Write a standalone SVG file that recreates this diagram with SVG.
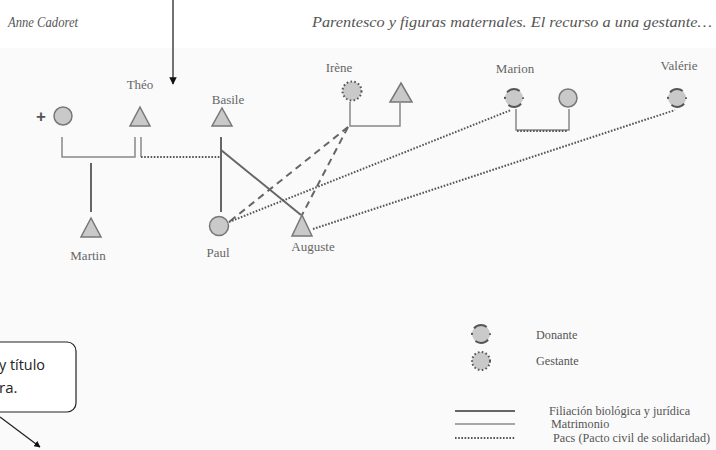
<svg xmlns="http://www.w3.org/2000/svg" width="716" height="450" viewBox="0 0 716 450">
<defs>
<style>
.hdr{font-family:"Liberation Serif",serif;font-style:italic;font-size:15px;fill:#555}
.lbl{font-family:"Liberation Serif",serif;font-size:13px;fill:#666}
.leg{font-family:"Liberation Serif",serif;font-size:12.2px;fill:#555}
.node{fill:#c9c9c9;stroke:#777;stroke-width:1.5}
.don{fill:#c9c9c9;stroke:#555;stroke-width:2;stroke-dasharray:2 5 14 7.27;stroke-dashoffset:1}
.ges{fill:#c9c9c9;stroke:#555;stroke-width:2;stroke-dasharray:1.6 2.3}
.fil{fill:none;stroke:#666;stroke-width:2}
.mat{fill:none;stroke:#888;stroke-width:1.5}
.pacs{fill:none;stroke:#555;stroke-width:2;stroke-dasharray:1.6 1.6}
.dash{fill:none;stroke:#666;stroke-width:2;stroke-dasharray:7 5}
.call{font-family:"Open Sans","Liberation Sans",sans-serif;font-size:15px;fill:#222}
</style>
<marker id="ah" viewBox="0 0 10 10" refX="9" refY="5" markerWidth="5" markerHeight="5" orient="auto"><path d="M0,0 L10,5 L0,10 z" fill="#111"/></marker>
</defs>
<rect x="0" y="0" width="716" height="450" fill="#fff"/>
<rect x="0" y="48" width="716" height="402" fill="#fafafa"/>
<text class="hdr" x="8" y="27" style="font-size:14px" textLength="70" lengthAdjust="spacingAndGlyphs">Anne Cadoret</text>
<text class="hdr" x="312" y="27" textLength="400" lengthAdjust="spacingAndGlyphs">Parentesco y figuras maternales. El recurso a una gestante…</text>
<g id="connectors">
<path class="mat" d="M62,137 V157 H135 V137"/>
<path class="fil" d="M91,163 V212"/>
<path class="mat" d="M141,137 V157"/>
<path class="pacs" d="M141,157 H221"/>
<path class="fil" d="M221,137 V212"/>
<path class="fil" d="M221,150 L301,215"/>
<path class="mat" d="M350,102 V126 H400 V103"/>
<path class="dash" d="M348,127 L229,222"/>
<path class="dash" d="M348,127 L302,215"/>
<path class="pacs" d="M229,222 L511,110"/>
<path class="pacs" d="M313,229 L675,110"/>
<path class="mat" d="M516,109 V130 H569 V109"/>
<path class="pacs" d="M517,131 H567"/>
</g>
<g id="top-arrow"><path d="M173,0 V84" stroke="#444" stroke-width="1.5" marker-end="url(#ah)"/></g>
<g id="plus"><text x="41" y="122" text-anchor="middle" style="font-family:'Liberation Sans',sans-serif;font-size:17px;font-weight:bold;fill:#555">+</text></g>
<g id="wife"><circle class="node" cx="63" cy="116" r="9"/></g>
<g id="theo"><text class="lbl" x="140" y="89" text-anchor="middle">Théo</text><path class="node" d="M140,107 L150,126 L130,126 Z"/></g>
<g id="basile"><text class="lbl" x="228" y="104" text-anchor="middle">Basile</text><path class="node" d="M222,108 L232,126 L212,126 Z"/></g>
<g id="martin"><path class="node" d="M91,218 L101,237 L81,237 Z"/><text class="lbl" x="88" y="260" text-anchor="middle">Martin</text></g>
<g id="paul"><circle class="node" cx="219" cy="226" r="9.5"/><text class="lbl" x="218" y="257" text-anchor="middle">Paul</text></g>
<g id="auguste"><path class="node" d="M302,215 L312,236 L292,236 Z"/><text class="lbl" x="313" y="251" text-anchor="middle">Auguste</text></g>
<g id="irene"><text class="lbl" x="339" y="72" text-anchor="middle">Irène</text><circle class="ges" cx="352" cy="91" r="9.5"/></g>
<g id="irene-partner"><path class="node" d="M401,83 L412,102 L390,102 Z"/></g>
<g id="marion"><text class="lbl" x="515" y="73" text-anchor="middle">Marion</text><circle class="don" cx="514" cy="98" r="9"/></g>
<g id="marion-partner"><circle class="node" cx="568" cy="98" r="9"/></g>
<g id="valerie"><text class="lbl" x="679" y="70" text-anchor="middle">Valérie</text><circle class="don" cx="677" cy="98" r="9"/></g>
<g id="legend">
<circle class="don" cx="481" cy="334" r="9"/>
<text class="leg" x="536" y="339">Donante</text>
<circle class="ges" cx="481" cy="361" r="9"/>
<text class="leg" x="536" y="365">Gestante</text>
<path class="fil" d="M455,411 H515"/>
<text class="leg" x="549" y="415">Filiación biológica y jurídica</text>
<path class="mat" d="M455,424 H515"/>
<text class="leg" x="551" y="428">Matrimonio</text>
<path class="pacs" d="M455,438 H515"/>
<text class="leg" x="553" y="442">Pacs (Pacto civil de solidaridad)</text>
</g>
<g id="callout">
<rect x="-20" y="342" width="96" height="70" rx="9" fill="#fff" stroke="#222" stroke-width="1.2"/>
<text class="call" x="-1" y="370" textLength="46" lengthAdjust="spacingAndGlyphs">y título</text>
<text class="call" x="-1" y="393">ra.</text>
<path d="M0,417 L40,447" stroke="#222" stroke-width="1.3" marker-end="url(#ah)"/>
</g>
</svg>
